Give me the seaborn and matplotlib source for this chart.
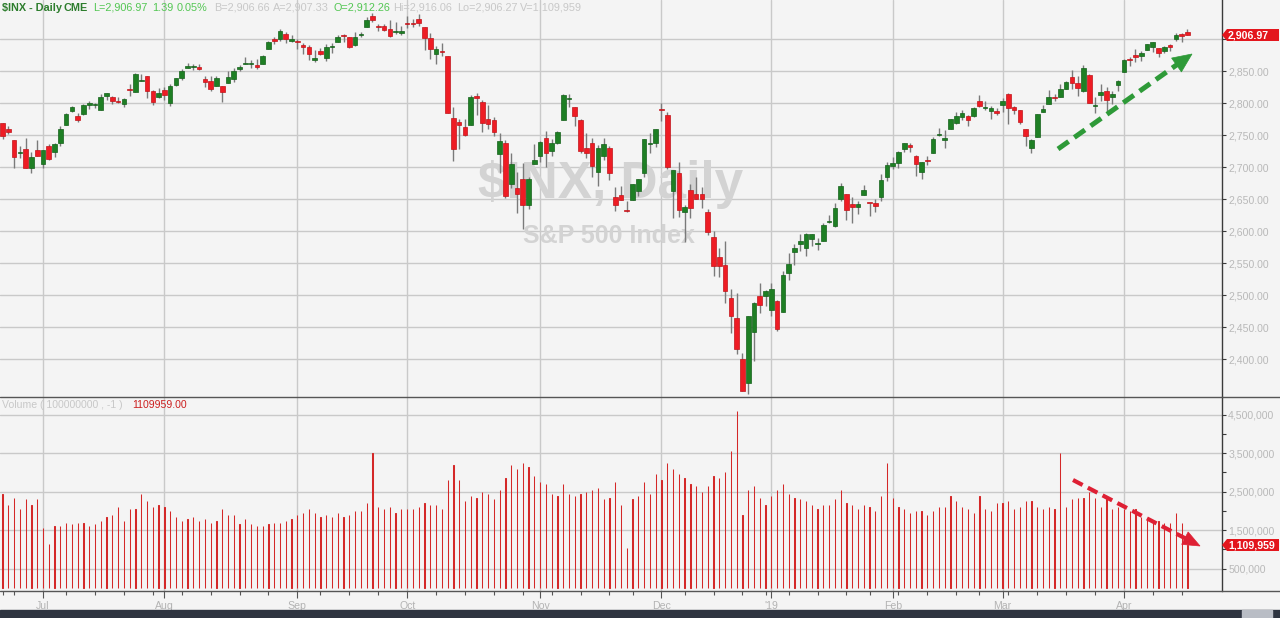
import numpy as np
import pandas as pd
import matplotlib
matplotlib.use("Agg")
import matplotlib.pyplot as plt
import seaborn as sns
from matplotlib.patches import Polygon, Rectangle
from matplotlib.ticker import FixedLocator, FuncFormatter

# ---------------- data ----------------
holidays = ["2018-07-04", "2018-09-03", "2018-11-22", "2018-12-05", "2018-12-25",
            "2019-01-01", "2019-01-21", "2019-02-18"]

opens = [
    2769.28, 2760.79, 2742.94, 2722.12, 2728.45, 2698.69, 2727.13,
    2704.95, 2733.27, 2724.19, 2737.68, 2765.79, 2788.56, 2779.82, 2783.14, 2796.93, 2797.36,
    2789.34, 2811.35, 2809.37, 2804.55, 2799.17, 2820.68, 2817.73, 2835.49, 2842.35, 2819.00, 2809.73,
    2821.17, 2800.48, 2829.62, 2840.29, 2855.92, 2856.79, 2857.19, 2838.90, 2835.46, 2827.88, 2827.95,
    2831.44, 2838.32, 2853.93, 2861.51, 2860.99, 2860.29, 2862.35, 2884.69, 2901.45, 2900.62, 2908.94, 2898.37,
    2896.96, 2891.59, 2888.64, 2868.26, 2881.39, 2871.57, 2888.29, 2896.85, 2906.38, 2903.83, 2890.74,
    2906.60, 2919.73, 2936.76, 2921.83, 2921.75, 2916.98, 2911.65, 2910.03,
    2926.29, 2923.80, 2931.69, 2919.35, 2902.54, 2877.53, 2882.51, 2873.90, 2776.87, 2770.54, 2763.83,
    2767.05, 2811.67, 2802.00, 2775.66, 2773.94, 2721.03, 2737.87, 2674.88, 2667.86, 2682.65, 2640.68, 2705.60,
    2717.58, 2745.45, 2726.37, 2738.40, 2774.13, 2806.38, 2794.10, 2773.93, 2730.05, 2737.90, 2693.52,
    2718.54, 2730.74, 2654.60, 2657.74, 2633.36, 2649.97, 2663.75, 2691.45, 2736.97, 2737.76,
    2790.50, 2782.43, 2663.51, 2691.26, 2630.86, 2664.44, 2658.23, 2658.70, 2629.68, 2590.75, 2559.90,
    2547.05, 2496.77, 2465.38, 2400.56, 2363.12, 2442.50, 2498.77, 2498.94,
    2476.96, 2491.92, 2474.33, 2535.61, 2568.11, 2580.00, 2573.51, 2588.11, 2580.31, 2585.10, 2614.75,
    2609.28, 2651.27, 2657.88, 2643.48, 2638.84, 2657.44, 2644.97, 2644.89, 2653.62, 2685.49,
    2702.32, 2706.49, 2728.34, 2735.05, 2717.53, 2692.36, 2712.40, 2722.61, 2750.30, 2743.50, 2760.24,
    2769.28, 2779.05, 2780.67, 2780.67, 2804.35, 2792.36, 2787.50, 2788.11,
    2798.22, 2814.37, 2794.41, 2790.27, 2760.24, 2730.79, 2747.61, 2787.34, 2799.78, 2810.38, 2810.79,
    2822.61, 2840.76, 2831.34, 2819.72, 2844.52, 2796.01, 2812.66, 2819.72, 2809.40, 2828.27,
    2848.63, 2868.24, 2876.09, 2873.99, 2884.16, 2888.46, 2886.58, 2881.37, 2891.92, 2900.86, 2908.32, 2912.26,
]
highs = [
    2769.28, 2764.17, 2742.94, 2732.91, 2746.09, 2724.34, 2743.26,
    2727.26, 2736.58, 2737.83, 2764.41, 2784.65, 2795.58, 2785.91, 2799.22, 2804.53, 2801.19,
    2814.19, 2816.76, 2812.05, 2809.70, 2808.61, 2829.99, 2848.03, 2845.57, 2843.17, 2821.74, 2824.46,
    2825.83, 2829.91, 2840.38, 2853.29, 2863.43, 2862.44, 2862.48, 2842.20, 2843.40, 2843.11, 2827.95,
    2850.49, 2855.63, 2859.76, 2873.23, 2867.54, 2868.78, 2876.16, 2898.25, 2903.77, 2916.50, 2912.46, 2906.32,
    2900.18, 2894.21, 2892.05, 2883.81, 2886.93, 2892.52, 2894.65, 2906.76, 2908.30, 2904.65, 2911.17,
    2912.36, 2934.80, 2940.91, 2923.79, 2923.95, 2931.15, 2927.22, 2920.53,
    2937.06, 2931.42, 2939.86, 2919.78, 2909.64, 2889.45, 2894.83, 2874.02, 2795.14, 2775.77, 2775.99,
    2813.46, 2816.94, 2806.04, 2797.77, 2778.94, 2753.59, 2742.59, 2722.70, 2692.38, 2706.85, 2685.43, 2736.69,
    2741.67, 2756.55, 2744.27, 2756.82, 2815.15, 2814.75, 2794.10, 2775.99, 2754.60, 2746.80, 2735.38,
    2746.75, 2733.16, 2669.44, 2670.73, 2647.55, 2674.35, 2682.53, 2744.00, 2753.75, 2760.88,
    2800.18, 2785.93, 2696.15, 2708.54, 2641.34, 2674.35, 2685.44, 2670.19, 2635.07, 2601.13, 2573.99,
    2585.29, 2509.63, 2504.41, 2410.34, 2467.76, 2489.10, 2520.27, 2509.24,
    2519.49, 2493.14, 2538.07, 2566.16, 2579.82, 2595.32, 2597.82, 2596.27, 2589.32, 2613.08, 2625.76,
    2645.06, 2675.47, 2657.88, 2653.19, 2647.20, 2672.38, 2644.97, 2650.93, 2690.44, 2708.95,
    2716.66, 2724.99, 2738.98, 2738.08, 2719.32, 2708.07, 2718.05, 2748.19, 2761.85, 2757.90, 2775.66,
    2787.33, 2789.88, 2781.58, 2794.20, 2813.49, 2803.12, 2795.76, 2793.73,
    2808.02, 2816.88, 2796.44, 2790.27, 2760.24, 2744.13, 2784.00, 2798.32, 2821.24, 2815.00, 2830.73,
    2835.41, 2852.42, 2843.54, 2860.31, 2846.16, 2809.79, 2829.87, 2825.56, 2819.71, 2836.03,
    2869.40, 2872.90, 2885.25, 2881.28, 2893.24, 2895.95, 2886.88, 2889.71, 2893.42, 2910.54, 2909.60, 2916.06,
]
lows = [
    2744.39, 2752.68, 2698.67, 2715.60, 2699.38, 2691.99, 2718.03,
    2698.95, 2711.16, 2716.02, 2733.52, 2765.79, 2786.24, 2770.77, 2781.53, 2791.69, 2793.39,
    2789.24, 2805.89, 2799.77, 2800.01, 2795.14, 2811.12, 2817.73, 2835.26, 2808.34, 2798.11, 2808.06,
    2805.85, 2796.34, 2827.37, 2835.98, 2855.92, 2853.09, 2851.98, 2825.81, 2819.88, 2826.58, 2802.49,
    2831.44, 2833.73, 2850.62, 2861.32, 2856.05, 2854.03, 2862.35, 2884.69, 2893.50, 2898.40, 2895.22, 2895.77,
    2885.13, 2876.92, 2867.29, 2864.12, 2875.94, 2866.78, 2879.20, 2896.39, 2895.77, 2886.16, 2890.43,
    2903.82, 2919.73, 2927.11, 2912.63, 2913.70, 2903.28, 2909.27, 2907.50,
    2917.91, 2919.37, 2921.36, 2883.92, 2869.29, 2862.08, 2874.27, 2784.86, 2710.51, 2729.44, 2749.03,
    2766.91, 2781.81, 2755.18, 2760.27, 2749.22, 2691.43, 2651.89, 2667.84, 2628.16, 2603.54, 2635.34, 2705.60,
    2708.85, 2700.44, 2717.94, 2737.08, 2774.13, 2794.99, 2764.24, 2722.00, 2714.98, 2685.75, 2670.75,
    2712.16, 2681.09, 2631.52, 2649.82, 2631.09, 2649.97, 2655.89, 2684.38, 2722.94, 2732.76,
    2773.38, 2697.18, 2621.53, 2623.14, 2583.23, 2621.30, 2650.26, 2637.27, 2593.84, 2530.54, 2528.71,
    2488.96, 2441.18, 2408.55, 2351.10, 2346.58, 2397.94, 2472.89, 2482.82,
    2467.47, 2443.96, 2474.33, 2524.56, 2547.56, 2568.89, 2562.02, 2577.40, 2570.41, 2585.10, 2612.68,
    2606.36, 2647.58, 2617.27, 2612.86, 2627.01, 2657.33, 2624.06, 2631.05, 2648.34, 2678.65,
    2696.88, 2698.75, 2724.03, 2724.15, 2687.26, 2681.83, 2703.79, 2722.61, 2748.63, 2731.23, 2760.24,
    2767.29, 2774.06, 2764.55, 2779.11, 2794.99, 2789.47, 2775.13, 2782.51,
    2787.38, 2767.66, 2782.97, 2768.69, 2732.91, 2722.27, 2747.61, 2786.73, 2799.78, 2803.46, 2810.79,
    2821.99, 2823.27, 2812.43, 2817.38, 2800.47, 2785.02, 2803.99, 2787.72, 2798.77, 2819.23,
    2848.63, 2858.75, 2865.17, 2867.14, 2882.99, 2880.78, 2873.33, 2879.13, 2881.99, 2898.37, 2896.48, 2906.27,
]
closes = [
    2749.76, 2754.88, 2717.07, 2723.06, 2699.63, 2716.31, 2718.37,
    2726.71, 2713.22, 2736.61, 2759.82, 2784.17, 2793.84, 2774.02, 2798.29, 2801.31, 2798.43,
    2809.55, 2815.62, 2804.49, 2801.83, 2806.98, 2820.40, 2846.07, 2837.44, 2818.82, 2802.60, 2816.29,
    2813.36, 2827.22, 2840.35, 2850.40, 2858.45, 2857.70, 2853.58, 2833.28, 2821.93, 2839.96, 2818.37,
    2840.69, 2850.13, 2857.05, 2862.96, 2861.82, 2856.98, 2874.69, 2896.74, 2897.52, 2914.04, 2901.13, 2901.52,
    2896.72, 2888.60, 2878.05, 2871.68, 2877.13, 2887.89, 2888.92, 2904.18, 2904.98, 2888.80, 2904.31,
    2907.95, 2930.75, 2929.67, 2919.37, 2915.56, 2905.97, 2914.00, 2913.98,
    2924.59, 2923.43, 2925.51, 2901.61, 2885.57, 2884.43, 2880.34, 2785.68, 2728.37, 2767.13, 2750.79,
    2809.92, 2809.21, 2768.78, 2767.78, 2755.88, 2740.69, 2656.10, 2705.57, 2658.69, 2641.25, 2682.63, 2711.74,
    2740.37, 2723.06, 2738.31, 2755.45, 2813.89, 2806.83, 2781.01, 2726.22, 2722.18, 2701.58, 2730.20,
    2736.27, 2690.73, 2641.89, 2649.93, 2632.56, 2673.45, 2682.17, 2743.79, 2737.80, 2760.17,
    2790.37, 2700.06, 2695.95, 2633.08, 2637.72, 2636.78, 2651.07, 2650.54, 2599.95, 2545.94, 2546.16,
    2506.96, 2467.42, 2416.62, 2351.10, 2467.70, 2488.83, 2485.74, 2506.85,
    2510.03, 2447.89, 2531.94, 2549.69, 2574.41, 2584.96, 2596.64, 2596.26, 2582.61, 2610.30, 2616.10,
    2635.96, 2670.71, 2632.90, 2638.70, 2642.33, 2664.76, 2643.85, 2640.00, 2681.05, 2704.10,
    2706.53, 2724.87, 2737.70, 2731.61, 2706.05, 2707.88, 2709.80, 2744.73, 2753.03, 2745.73, 2775.60,
    2779.76, 2784.70, 2774.88, 2792.67, 2796.11, 2793.90, 2792.38, 2784.49,
    2803.69, 2792.81, 2789.65, 2771.45, 2748.93, 2743.07, 2783.30, 2791.52, 2810.92, 2808.48, 2822.48,
    2832.94, 2832.57, 2824.23, 2854.88, 2800.71, 2798.36, 2818.46, 2805.37, 2815.44, 2834.40,
    2867.19, 2867.24, 2873.40, 2879.39, 2892.74, 2895.77, 2878.20, 2888.21, 2888.32, 2907.41, 2905.58, 2906.97,
]
volumes_m = [
    2.45, 2.15, 2.35, 2.05, 2.30, 2.15, 2.30,
    1.55, 1.15, 1.60, 1.60, 1.70, 1.65, 1.70, 1.70, 1.60, 1.65, 1.75, 1.85, 1.90, 2.10, 1.75, 2.05,
    2.05, 2.45, 2.25, 2.10, 2.15,
    2.10, 2.00, 1.85, 1.75, 1.80, 1.85, 1.75, 1.80, 1.70, 1.75, 2.05, 1.90, 1.90, 1.65, 1.80, 1.65,
    1.60, 1.60, 1.65, 1.70, 1.70, 1.75, 1.80,
    1.90, 1.95, 2.05, 1.95, 1.85, 1.90, 1.85, 1.95, 1.85, 1.90, 2.00, 2.00, 2.20, 3.50, 2.10, 2.05,
    2.10, 1.95, 2.05,
    2.05, 2.05, 2.10, 2.20, 2.15, 2.15, 2.05, 2.80, 3.20, 2.80, 2.25, 2.40, 2.35, 2.50, 2.45, 2.30,
    2.55, 2.85, 3.20, 3.10, 3.25, 3.15, 2.90,
    2.75, 2.70, 2.45, 2.40, 2.70, 2.45, 2.40, 2.45, 2.50, 2.55, 2.60, 2.30, 2.35, 2.75, 2.15, 1.05,
    2.30, 2.40, 2.75, 2.45, 2.95,
    2.80, 3.25, 3.10, 2.95, 2.85, 2.70, 2.65, 2.50, 2.65, 2.90, 2.85, 3.00, 3.55, 4.60, 1.90, 2.55,
    2.65, 2.35, 2.15,
    2.40, 2.55, 2.70, 2.45, 2.35, 2.30, 2.25, 2.15, 2.05, 2.15, 2.15, 2.30, 2.55, 2.20, 2.15, 2.05,
    2.15, 2.10, 2.00, 2.40, 3.25,
    2.35, 2.10, 2.05, 1.95, 2.00, 2.00, 1.90, 2.00, 2.10, 2.10, 2.40, 2.25, 2.10, 2.05, 1.95, 2.40,
    2.05, 2.00, 2.20,
    2.20, 2.25, 2.05, 2.10, 2.25, 2.25, 2.10, 2.05, 2.10, 2.05, 3.50, 2.10, 2.30, 2.35, 2.35, 2.50,
    2.35, 2.10, 2.30, 2.05, 2.10,
    2.05, 2.00, 2.05, 1.85, 1.80, 1.75, 1.75, 1.70, 1.70, 1.95, 1.70, 1.109959,
]

price_ticks = [2400, 2450, 2500, 2550, 2600, 2650, 2700, 2750, 2800, 2850, 2900]
vol_major = [500000, 1500000, 2500000, 3500000, 4500000]
vol_minor = [1000000, 2000000, 3000000, 4000000]
month_labels = ["Jul", "Aug", "Sep", "Oct", "Nov", "Dec", "'19", "Feb", "Mar", "Apr"]
header_parts = [
    ("$INX - Daily", "#2d7d2d", "bold"), ("CME", "#2d7d2d", "bold"),
    ("L=2,906.97", "#52c652", "normal"), ("1.39", "#52c652", "normal"),
    ("0.05%", "#52c652", "normal"), ("B=2,906.66", "#c8c8c8", "normal"),
    ("A=2,907.33", "#c8c8c8", "normal"), ("O=2,912.26", "#52c652", "normal"),
    ("Hi=2,916.06", "#c8c8c8", "normal"), ("Lo=2,906.27", "#c8c8c8", "normal"),
    ("V=1,109,959", "#c8c8c8", "normal"),
]
header_x = [2, 63, 93, 152, 177, 214, 273, 333, 393, 457, 520]
last_price_label = "2,906.97"
last_vol_label = "1,109,959"

# ---------------- build frame ----------------
dates = [d for d in pd.bdate_range("2018-06-21", "2019-04-16") if d.strftime("%Y-%m-%d") not in holidays]
df = pd.DataFrame({"date": dates, "open": opens, "high": highs, "low": lows,
                   "close": closes, "volume": np.array(volumes_m) * 1e6})
df["idx"] = np.arange(len(df))
df["up"] = df["close"] >= df["open"]

month_start = df.groupby(df["date"].dt.to_period("M"))["idx"].min().values[1:]
week_start = df.groupby(df["date"].dt.to_period("W"))["idx"].min().values

# ---------------- figure ----------------
sns.set_theme(style="white")
plt.rcParams["font.family"] = ["Liberation Sans", "DejaVu Sans"]
W, H = 1280, 618
fig = plt.figure(figsize=(W / 100, H / 100), dpi=100)
fig.patch.set_facecolor("#f4f4f4")
BG = "#f4f4f4"
GRID = "#c9c9c9"
LABEL = "#b9b9b9"
RIGHT = 1222

def fx(px):
    return px / W

def fy(py):
    return 1 - py / H

ax = fig.add_axes([0, fy(397), fx(RIGHT), 397 / H])
axv = fig.add_axes([0, fy(591), fx(RIGHT), (591 - 397) / H])

xlim = (-0.44, 210.97)
for a in (ax, axv):
    a.set_facecolor(BG)
    a.set_xlim(*xlim)
    for s in ("left", "top", "bottom"):
        a.spines[s].set_visible(False)
    a.spines["right"].set_color("#3a3a3a")
    a.spines["right"].set_linewidth(1.0)
    a.yaxis.tick_right()
    a.tick_params(axis="y", colors="#3a3a3a", labelcolor=LABEL, labelsize=7.6,
                  length=3, width=0.8, pad=1.5, direction="out")
    for m in month_start:
        a.axvline(m, color=GRID, lw=1.0, zorder=0)

# ----- price panel -----
ax.set_ylim(2341.4, 2961.7)
ax.yaxis.set_major_locator(FixedLocator(price_ticks))
ax.yaxis.set_major_formatter(FuncFormatter(lambda v, p: "" if v >= 2900 else f"{v:,.2f}"))
for t in price_ticks:
    ax.axhline(t, color=GRID, lw=1.0, zorder=0)
ax.set_xticks([])

# watermark
ax.text(0.5, 1 - 198 / 397, "$INX, Daily", transform=ax.transAxes, ha="center",
        va="baseline", fontsize=37, fontweight="bold", color="#d3d3d3", zorder=1)
ax.text(609 / RIGHT, 1 - 243 / 397, "S&P 500 Index", transform=ax.transAxes, ha="center",
        va="baseline", fontsize=18, fontweight="bold", color="#d3d3d3", zorder=1)

GREEN, GREEN_E = "#1e7f24", "#14601a"
RED, RED_E = "#ee1c24", "#c0141a"
ax.vlines(df["idx"], df["low"], df["high"], color="#7a7a7a", lw=1.0, zorder=2)
body = (df["close"] - df["open"]).abs().clip(lower=1.6)
bottom = df[["open", "close"]].min(axis=1)
ax.bar(df["idx"], body, bottom=bottom, width=0.8,
       color=np.where(df["up"], GREEN, RED), edgecolor=np.where(df["up"], GREEN_E, RED_E),
       linewidth=0.5, zorder=3)

# ----- volume panel -----
axv.set_ylim(-0.078e6, 4.961e6)
for t in vol_major:
    axv.axhline(t, color=GRID, lw=1.0, zorder=0)
VOLC = "#d42828"
sns.barplot(data=df, x="idx", y="volume", native_scale=True, width=0.04,
            color=VOLC, saturation=1, errorbar=None, ax=axv, zorder=2,
            edgecolor=VOLC, linewidth=0.75)
axv.set_xlim(*xlim)
axv.set_ylabel("")
axv.set_xlabel("")
axv.yaxis.set_major_locator(FixedLocator(vol_major))
axv.yaxis.set_minor_locator(FixedLocator(vol_minor))
axv.yaxis.set_major_formatter(FuncFormatter(lambda v, p: f"{v:,.0f}"))
axv.tick_params(axis="y", which="minor", length=3, width=0.8, colors="#3a3a3a", right=True, left=False)
axv.xaxis.set_major_locator(FixedLocator(month_start))
axv.xaxis.set_minor_locator(FixedLocator(week_start))
axv.set_xticklabels(month_labels)
axv.tick_params(axis="x", which="major", bottom=True, length=5, width=0.8, colors="#555555",
                labelcolor="#b3b3b3", labelsize=7.6, pad=2)
axv.tick_params(axis="x", which="minor", bottom=True, length=3, width=0.8, colors="#555555")
axv.text(2 / RIGHT, 1 - 8 / 194, "Volume ( 100000000 , -1 )", transform=axv.transAxes,
         ha="left", va="center", fontsize=7.6, color="#c8c8c8")
axv.text(132 / RIGHT, 1 - 8 / 194, "1109959.00", transform=axv.transAxes,
         ha="left", va="center", fontsize=7.6, color="#cc1f1f")

# ----- frame lines, header, value flags -----
for py in (397, 591):
    fig.add_artist(plt.Line2D([0, 1], [fy(py), fy(py)], color="#555555", lw=1.0))
for (txt, col, wt), px in zip(header_parts, header_x):
    fig.text(fx(px), fy(8), txt, color=col, fontweight=wt, fontsize=7.8, ha="left", va="center")

def flag(py, text):
    pts = [(RIGHT, py), (RIGHT + 5, py - 6), (1279, py - 6), (1279, py + 6), (RIGHT + 5, py + 6)]
    fig.add_artist(Polygon([(fx(a), fy(b)) for a, b in pts], closed=True, transform=fig.transFigure,
                           facecolor="#e3161d", edgecolor="none"))
    fig.text(fx(RIGHT + 6), fy(py), text, color="white", fontweight="bold", fontsize=7.6,
             ha="left", va="center")

flag(35, last_price_label)
flag(545, last_vol_label)

# bottom bar
fig.add_artist(Rectangle((0, 0), 1, fy(610), transform=fig.transFigure, color="#2e3440"))
fig.add_artist(Rectangle((fx(1242), 0), fx(30), fy(610), transform=fig.transFigure, color="#b9bdc5"))

# annotation arrows: dashed shaft + solid head
def dashed_arrow(p0, p1, color, lw, head_len, head_w):
    p0 = np.array(p0, float)
    p1 = np.array(p1, float)
    u = (p1 - p0) / np.linalg.norm(p1 - p0)
    n = np.array([-u[1], u[0]])
    end = p1 - u * head_len * 0.8
    fig.add_artist(plt.Line2D([fx(p0[0]), fx(end[0])], [fy(p0[1]), fy(end[1])], color=color,
                              lw=lw, linestyle=(0, (2.6, 1.4)), solid_capstyle="butt",
                              dash_capstyle="butt"))
    base = p1 - u * head_len
    tri = [p1, base + n * head_w / 2, base - n * head_w / 2]
    fig.add_artist(Polygon([(fx(a), fy(b)) for a, b in tri], closed=True,
                           transform=fig.transFigure, facecolor=color, edgecolor=color, lw=0.5))

dashed_arrow((1058, 149), (1192, 54), "#2e9a38", 3.6, 19, 17)
dashed_arrow((1073, 480), (1200, 546), "#de2034", 3.0, 17, 14)

fig.savefig("out.png", dpi=100, facecolor=fig.get_facecolor())
